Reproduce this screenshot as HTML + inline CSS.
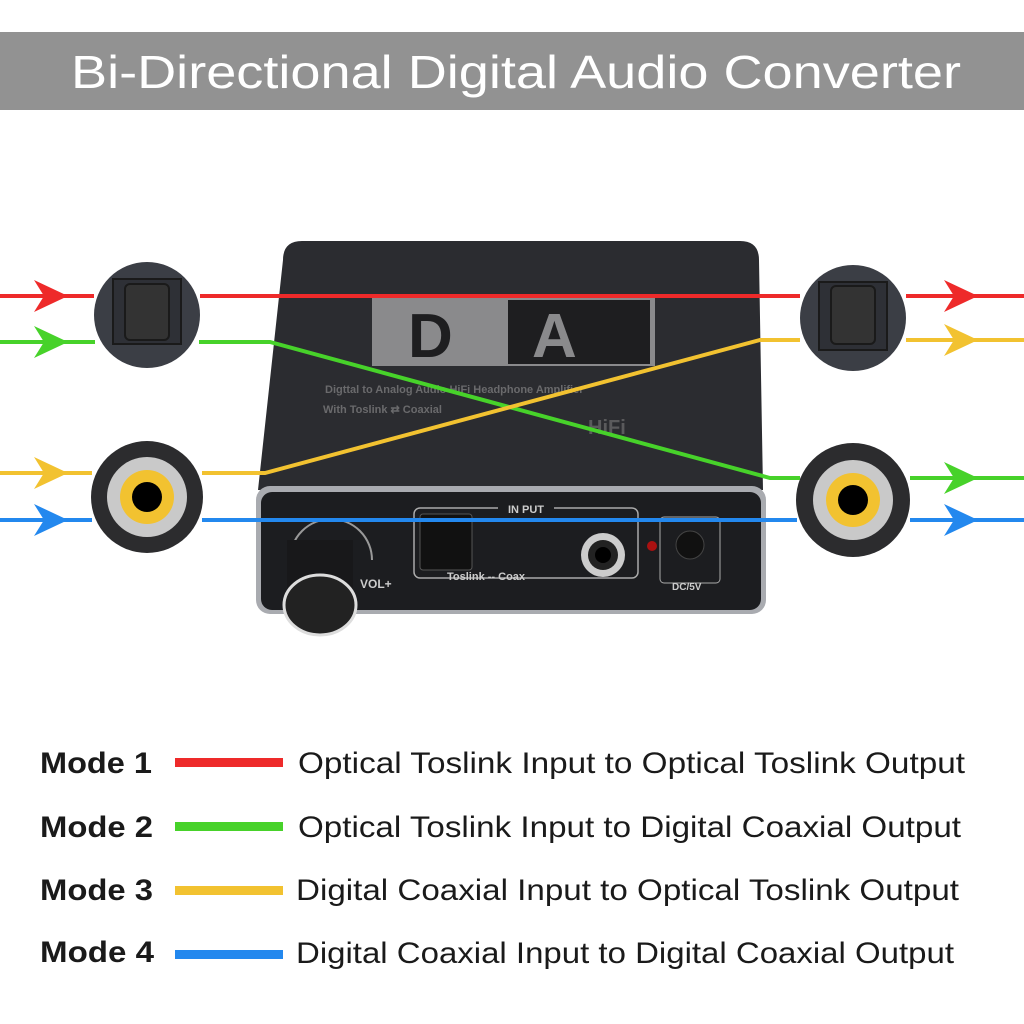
<!DOCTYPE html>
<html><head><meta charset="utf-8"><style>html,body{margin:0;padding:0;background:#fff}svg{display:block}</style></head>
<body>
<svg width="1024" height="1024" viewBox="0 0 1024 1024" xmlns="http://www.w3.org/2000/svg" font-family="Liberation Sans, sans-serif">
<rect width="1024" height="1024" fill="#fff"/>
<rect x="0" y="32" width="1024" height="78" fill="#929292"/>
<text x="516" y="88" fill="#fff" font-size="46" text-anchor="middle" textLength="890" lengthAdjust="spacingAndGlyphs">Bi-Directional Digital Audio Converter</text>

<!-- device body -->
<path d="M283 260 Q283 241 302 241 L740 241 Q759 241 759 260 L763 490 L258 490 Z" fill="#2b2c30"/>
<rect x="256" y="486" width="510" height="128" rx="14" fill="#a9abb0"/>
<rect x="261" y="492" width="500" height="118" rx="11" fill="#1c1d20"/>
<rect x="372" y="298" width="283" height="68" fill="#8a8a8c"/>
<text x="408" y="357" font-size="62" font-weight="bold" fill="#1e1e20">D</text>
<rect x="508" y="300" width="142" height="64" fill="#1e1e20"/>
<text x="532" y="357" font-size="62" font-weight="bold" fill="#8a8a8c">A</text>
<text x="325" y="393" font-size="11" font-weight="bold" fill="#6a6a6c">Digttal to Analog Audio HiFi Headphone Amplifier</text>
<text x="323" y="413" font-size="11" font-weight="bold" fill="#6a6a6c">With Toslink ⇄ Coaxial</text>
<text x="588" y="434" font-size="20" font-weight="bold" fill="#5a5a5c">HiFi</text>
<rect x="414" y="508" width="224" height="70" rx="6" fill="none" stroke="#aaa" stroke-width="1.5"/>
<rect x="498" y="502" width="56" height="12" fill="#1c1d20"/>
<text x="526" y="513" font-size="11" font-weight="bold" fill="#ccc" text-anchor="middle">IN PUT</text>
<rect x="420" y="514" width="52" height="56" rx="3" fill="#111" stroke="#555"/>
<circle cx="603" cy="555" r="22" fill="#ccc"/><circle cx="603" cy="555" r="15" fill="#222"/><circle cx="603" cy="555" r="8" fill="#000"/>
<text x="447" y="580" font-size="11" font-weight="bold" fill="#ccc">Toslink -- Coax</text>
<circle cx="652" cy="546" r="5" fill="#a11"/>
<rect x="660" y="517" width="60" height="66" rx="4" fill="none" stroke="#aaa"/>
<circle cx="690" cy="545" r="14" fill="#111" stroke="#444"/>
<text x="672" y="590" font-size="10" font-weight="bold" fill="#ccc">DC/5V</text>
<path d="M290 560 A40 40 0 1 1 372 560" fill="none" stroke="#999" stroke-width="2"/>
<text x="360" y="588" font-size="12" font-weight="bold" fill="#ccc">VOL+</text>
<rect x="287" y="540" width="66" height="62" fill="#18181a"/>
<ellipse cx="320" cy="605" rx="36" ry="30" fill="#222" stroke="#ddd" stroke-width="3"/>

<!-- ports -->
<g>
<circle cx="147" cy="315" r="53" fill="#3b3e45"/>
<rect x="113" y="279" width="68" height="65" fill="#2e3036" stroke="#1a1a1a" stroke-width="2"/>
<rect x="125" y="284" width="44" height="56" rx="5" fill="#333" stroke="#1a1a1a" stroke-width="2"/>
<circle cx="853" cy="318" r="53" fill="#3b3e45"/>
<rect x="819" y="282" width="68" height="68" fill="#2e3036" stroke="#1a1a1a" stroke-width="2"/>
<rect x="831" y="286" width="44" height="58" rx="5" fill="#333" stroke="#1a1a1a" stroke-width="2"/>
<circle cx="147" cy="497" r="56" fill="#2c2c2e"/><circle cx="147" cy="497" r="40" fill="#c9c9c9"/><circle cx="147" cy="497" r="27" fill="#f2c230"/><circle cx="147" cy="497" r="15" fill="#000"/>
<circle cx="853" cy="500" r="57" fill="#2c2c2e"/><circle cx="853" cy="500" r="40" fill="#c9c9c9"/><circle cx="853" cy="500" r="27" fill="#f2c230"/><circle cx="853" cy="500" r="15" fill="#000"/>
</g>

<!-- lines -->
<g stroke-width="4" fill="none">
<line x1="0" y1="296" x2="94" y2="296" stroke="#ee2a2a"/>
<line x1="200" y1="296" x2="800" y2="296" stroke="#ee2a2a"/>
<line x1="906" y1="296" x2="1024" y2="296" stroke="#ee2a2a"/>
<polyline points="0,342 95,342" stroke="#47d22a"/>
<polyline points="199,342 270,342 770,478 800,478" stroke="#47d22a"/>
<line x1="910" y1="478" x2="1024" y2="478" stroke="#47d22a"/>
<line x1="0" y1="473" x2="92" y2="473" stroke="#f2c230"/>
<polyline points="202,473 265,473 760,340 800,340" stroke="#f2c230"/>
<line x1="906" y1="340" x2="1024" y2="340" stroke="#f2c230"/>
<line x1="0" y1="520" x2="92" y2="520" stroke="#2388ee"/>
<line x1="202" y1="520" x2="797" y2="520" stroke="#2388ee"/>
<line x1="910" y1="520" x2="1024" y2="520" stroke="#2388ee"/>
</g>
<g>
<path d="M68 296 L34 280 L44 296 L34 312 Z" fill="#ee2a2a"/>
<path d="M68 342 L34 326 L44 342 L34 358 Z" fill="#47d22a"/>
<path d="M68 473 L34 457 L44 473 L34 489 Z" fill="#f2c230"/>
<path d="M68 520 L34 504 L44 520 L34 536 Z" fill="#2388ee"/>
<path d="M978 296 L944 280 L954 296 L944 312 Z" fill="#ee2a2a"/>
<path d="M978 340 L944 324 L954 340 L944 356 Z" fill="#f2c230"/>
<path d="M978 478 L944 462 L954 478 L944 494 Z" fill="#47d22a"/>
<path d="M978 520 L944 504 L954 520 L944 536 Z" fill="#2388ee"/>
</g>

<!-- legend -->
<g font-size="30" fill="#1a1a1a">
<text x="40" y="773" font-weight="bold" textLength="112" lengthAdjust="spacingAndGlyphs">Mode 1</text>
<text x="40" y="837" font-weight="bold" textLength="113" lengthAdjust="spacingAndGlyphs">Mode 2</text>
<text x="40" y="900" font-weight="bold" textLength="113" lengthAdjust="spacingAndGlyphs">Mode 3</text>
<text x="40" y="962" font-weight="bold" textLength="114" lengthAdjust="spacingAndGlyphs">Mode 4</text>
<text x="298" y="773" textLength="667" lengthAdjust="spacingAndGlyphs">Optical Toslink Input to Optical Toslink Output</text>
<text x="298" y="837" textLength="663" lengthAdjust="spacingAndGlyphs">Optical Toslink Input to Digital Coaxial Output</text>
<text x="296" y="900" textLength="663" lengthAdjust="spacingAndGlyphs">Digital Coaxial Input to Optical Toslink Output</text>
<text x="296" y="963" textLength="658" lengthAdjust="spacingAndGlyphs">Digital Coaxial Input to Digital Coaxial Output</text>
</g>
<rect x="175" y="758" width="108" height="9" fill="#ee2a2a"/>
<rect x="175" y="822" width="108" height="9" fill="#47d22a"/>
<rect x="175" y="886" width="108" height="9" fill="#f2c230"/>
<rect x="175" y="950" width="108" height="9" fill="#2388ee"/>
</svg>
</body></html>
